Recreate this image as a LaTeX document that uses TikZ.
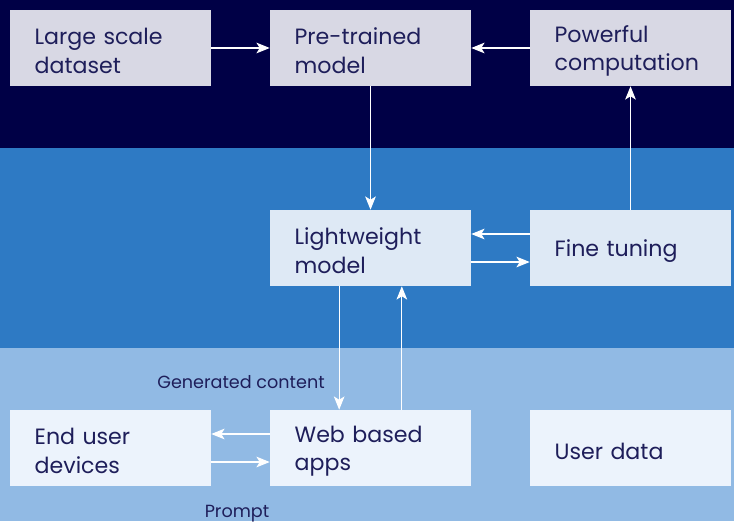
\documentclass[tikz,border=0pt]{standalone}
\usepackage{fontspec}
\setmainfont{Poppins}
\usetikzlibrary{
    arrows.meta,
    positioning
}
\definecolor{navyband}{RGB}{0,0,70}
\definecolor{midband}{RGB}{46,122,196}
\definecolor{lowband}{RGB}{145,186,228}
\definecolor{topbox}{RGB}{216,216,228}
\definecolor{midbox}{RGB}{222,233,245}
\definecolor{lowbox}{RGB}{236,243,252}
\definecolor{ink}{RGB}{30,30,90}
\tikzset{
    box/.style={minimum width=150.75pt, minimum height=57pt, inner xsep=18.5pt,
        text width=113.75pt, align=left, text=ink, text height=17pt,
        font=\fontsize{16.6}{21.4}\selectfont},
    flow/.style={draw=white, line width=0.8pt,
        -{Stealth[length=10pt, width=8pt, inset=2.5pt]}},
    tag/.style={text=ink, font=\fontsize{13.2}{16}\selectfont}
}
\begin{document}
\begin{tikzpicture}[x=0.75pt, y=-0.75pt]
    % bands
    \fill[navyband] (0, 0) rectangle (734, 147.5);
    \fill[midband] (0, 147.5) rectangle (734, 347.5);
    \fill[lowband] (0, 347.5) rectangle (734, 521);
    \useasboundingbox (0, 0) rectangle (734, 521);
    % boxes
    \node[box, fill=topbox] (dataset) at (110.5, 48) {Large scale\\dataset};
    \node[box, fill=topbox] (pretrained) at (370.5, 48) {Pre-trained\\model};
    \node[box, fill=topbox] (compute) at (630.5, 48) {Powerful\\computation};
    \node[box, fill=midbox] (light) at (370.5, 248) {Lightweight\\model};
    \node[box, fill=midbox] (tuning) at (630.5, 248) {Fine tuning};
    \node[box, fill=lowbox] (devices) at (110.5, 448) {End user\\devices};
    \node[box, fill=lowbox] (webapps) at (370.5, 448) {Web based\\apps};
    \node[box, fill=lowbox] (userdata) at (630.5, 448) {User data};
    % arrows
    \draw[flow] (dataset) -- (pretrained);
    \draw[flow] (compute) -- (pretrained);
    \draw[flow] (pretrained) -- (light);
    \draw[flow] (tuning) -- (compute);
    \draw[flow] ([yshift=10.5pt]tuning.west) -- ([yshift=10.5pt]light.east);
    \draw[flow] ([yshift=-10.5pt]light.east) -- ([yshift=-10.5pt]tuning.west);
    \draw[flow] ([xshift=-23.5pt]light.south) -- ([xshift=-23.5pt]webapps.north);
    \draw[flow] ([xshift=23.5pt]webapps.north) -- ([xshift=23.5pt]light.south);
    \draw[flow] ([yshift=10.5pt]webapps.west) -- ([yshift=10.5pt]devices.east);
    \draw[flow] ([yshift=-10.5pt]devices.east) -- ([yshift=-10.5pt]webapps.west);
    % labels
    \node[tag] (generated) at (241, 382) {Generated content};
    \node[tag] (prompt) at (237, 514) {Prompt};
\end{tikzpicture}
\end{document}
